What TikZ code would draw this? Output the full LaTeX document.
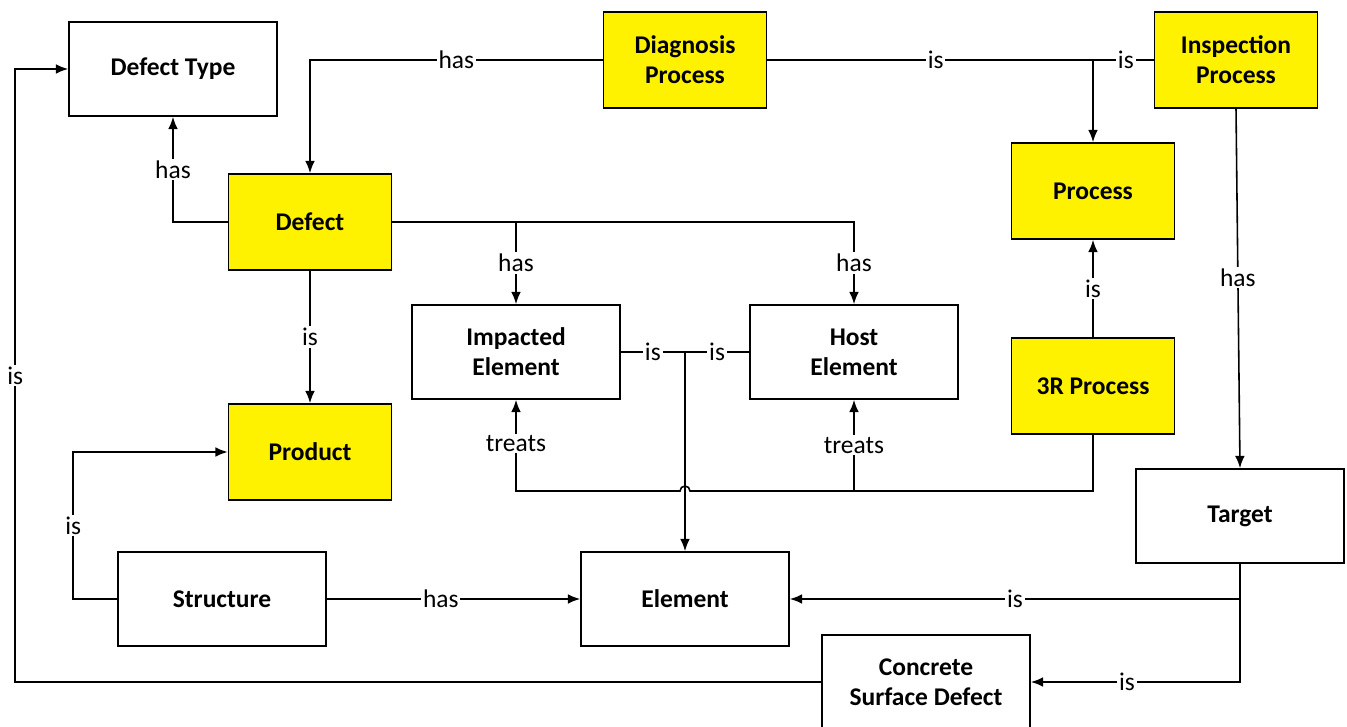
\documentclass[tikz,border=0pt]{standalone}
\usepackage{fontspec}
\setmainfont{Carlito}
\usepackage{tikz}
\usetikzlibrary{calc,arrows.meta}

\tikzset{
    ent/.style={draw, line width=0.9pt, fill=white, minimum width=4.16cm, minimum height=1.88cm,
        align=center, font=\fontsize{14.5}{17}\selectfont\bfseries},
    cls/.style={ent, fill=yellow, minimum width=3.26cm, minimum height=1.92cm},
    lbl/.style={fill=white, inner sep=1pt, font=\fontsize{14.5}{17}\selectfont},
    lnk/.style={line width=0.9pt},
    arr/.style={lnk, -{Latex[length=7pt,width=5.5pt]}}
}

\begin{document}
\begin{tikzpicture}
            \useasboundingbox (0,0) rectangle (26.94,14.52);
            \node[ent] (dtype) at (3.46,13.14) {Defect Type};
            \node[cls] (diag) at (13.70,13.32) {Diagnosis\\Process};
            \node[cls] (insp) at (24.72,13.32) {Inspection\\Process};
            \node[cls] (defect) at (6.20,10.08) {Defect};
            \node[cls] (proc) at (21.86,10.70) {Process};
            \node[ent] (imp) at (10.32,7.48) {Impacted\\Element};
            \node[ent] (host) at (17.08,7.48) {Host\\Element};
            \node[cls] (threer) at (21.86,6.80) {3R Process};
            \node[cls] (product) at (6.20,5.48) {Product};
            \node[ent] (target) at (24.80,4.20) {Target};
            \node[ent] (struct) at (4.44,2.54) {Structure};
            \node[ent] (elem) at (13.70,2.54) {Element};
            \node[ent] (csd) at (18.52,0.88) {Concrete\\Surface Defect};
            \coordinate (treatbus) at (21.86,4.70);

            \draw[arr] (diag.west) -- node[lbl] {has} (diag.west -| defect.north) -- (defect.north);
            \draw[lnk] (diag.east) -- node[lbl,pos=0.436] {is} node[lbl,pos=0.928] {is} (insp.west);
            \draw[arr] (diag.east -| proc.north) -- (proc.north);
            \draw[arr] (defect.west) -- (defect.west -| dtype.south) -- node[lbl] {has} (dtype.south);
            \draw[arr] (defect.east) -- (defect.east -| host.north) -- node[lbl] {has} (host.north);
            \draw[arr] (defect.east -| imp.north) -- node[lbl] {has} (imp.north);
            \draw[arr] (defect) -- node[lbl] {is} (product);
            \draw[arr] (threer) -- node[lbl] {is} (proc);
            % treats bus, hopping over the is line
            \draw[arr] (threer.south) -- (treatbus) -- ($(elem.north |- treatbus)+(0.1,0)$)
                arc[start angle=0,end angle=180,radius=0.1] -- (imp.south |- treatbus)
                -- node[lbl,pos=0.52] {treats} (imp.south);
            \draw[arr] (host.south |- treatbus) -- node[lbl] {treats} (host.south);
            \draw[lnk] (imp.east) -- node[lbl] {is} (imp.east -| elem.north);
            \draw[lnk] (host.west) -- node[lbl] {is} (host.west -| elem.north);
            \draw[arr] (imp.east -| elem.north) -- (elem.north);
            \draw[arr] (struct) -- node[lbl,pos=0.45] {has} (elem);
            \draw[arr] (struct.west) -- ++(-0.88,0) |- node[lbl,pos=0.25] {is} (product.west);
            \draw[arr] (insp.south) -- node[lbl,pos=0.47] {has} (target.north);
            \draw[arr] (target.south) |- node[lbl,pos=0.75] {is} (elem.east);
            \draw[arr] (target.south) |- node[lbl,pos=0.77] {is} (csd.east);
            \draw[arr] (csd.west) -- ++(-16.12,0) |- node[lbl,pos=0.25] {is} (dtype.west);
        \end{tikzpicture}
\end{document}
